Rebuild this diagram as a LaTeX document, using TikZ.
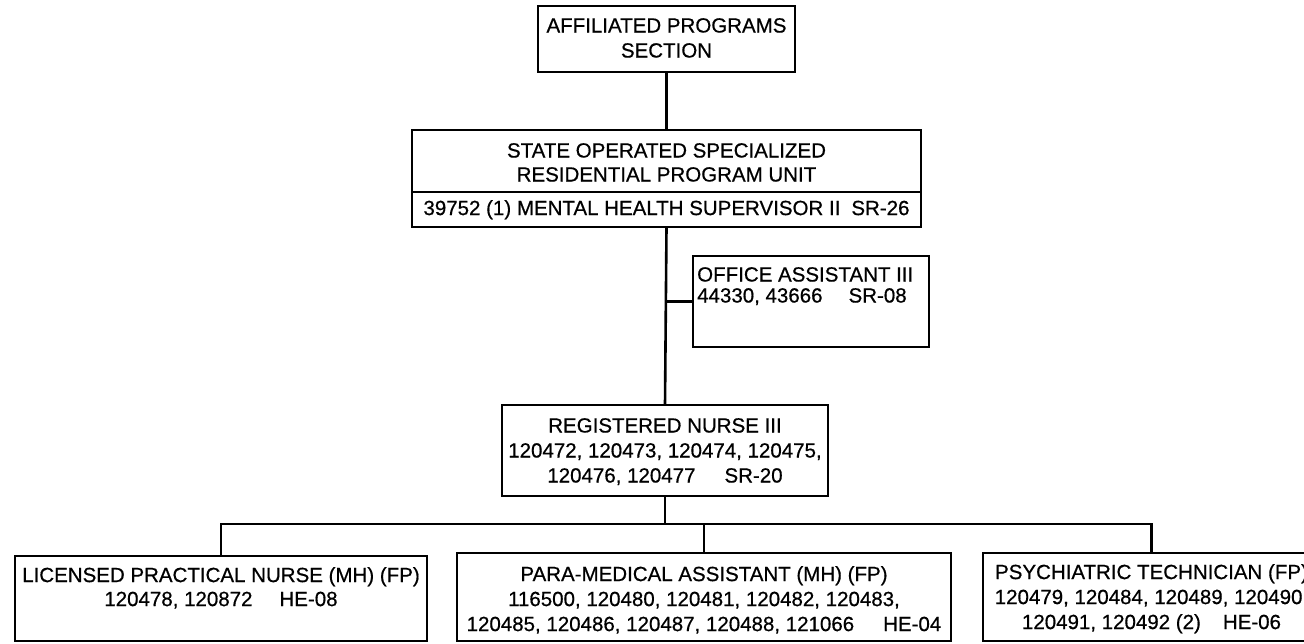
\documentclass[tikz,border=0pt]{standalone}
\usepackage{fontspec}
\setmainfont{Liberation Sans}[FakeBold=0.6]
\begin{document}
\begin{tikzpicture}[x=1pt,y=-1pt,
  box/.style={draw, line width=2.6pt, inner sep=0pt, outer sep=0pt, anchor=north west},
  txt/.style={inner sep=0pt, align=center, anchor=north, font=\fontsize{20.5}{25}\selectfont},
  conn/.style={line width=2.6pt}]
\useasboundingbox (0,0) rectangle (1304,644);
\clip (0,0) rectangle (1304,644);
% boxes
\node[box, minimum width=257pt, minimum height=66pt] (top) at (538,6) {};
\node[box, minimum width=509pt, minimum height=62pt] (stateA) at (412,130) {};
\node[box, minimum width=509pt, minimum height=35pt] (stateB) at (412,192) {};
\node[box, minimum width=236pt, minimum height=91pt] (office) at (693,256) {};
\node[box, minimum width=326pt, minimum height=91pt] (rn) at (502,405) {};
\node[box, minimum width=412pt, minimum height=85pt] (lpn) at (15,556) {};
\node[box, minimum width=494pt, minimum height=88pt] (mid) at (457,553) {};
\node[box, minimum width=337pt, minimum height=88pt] (psy) at (983,553) {};
% texts
\node[txt] (topT) at (top.north |- 0,18) {AFFILIATED PROGRAMS\\SECTION};
\node[txt, font=\fontsize{20.5}{24}\selectfont] (stateAT) at (stateA.north |- 0,143) {STATE OPERATED SPECIALIZED\\RESIDENTIAL PROGRAM UNIT};
\node[txt] (stateBT) at (stateB.north |- 0,200) {39752 (1) MENTAL HEALTH SUPERVISOR II\hspace{11pt}SR-26};
\node[txt, align=left, anchor=north west, font=\fontsize{20.5}{21}\selectfont] (officeT) at (697,267) {OFFICE ASSISTANT III\\44330, 43666\hspace{26pt}SR-08};
\node[txt] (rnT) at (rn.north |- 0,418) {REGISTERED NURSE III\\120472, 120473, 120474, 120475,\\120476, 120477\hspace{29pt}SR-20};
\node[txt, font=\fontsize{20.5}{24}\selectfont] (lpnT) at (lpn.north |- 0,567) {LICENSED PRACTICAL NURSE (MH) (FP)\\120478, 120872\hspace{27pt}HE-08};
\node[txt] (midT) at (mid.north |- 0,566) {PARA-MEDICAL ASSISTANT (MH) (FP)\\116500, 120480, 120481, 120482, 120483,\\120485, 120486, 120487, 120488, 121066\hspace{29pt}HE-04};
\node[txt] (psyT) at (psy.north |- 0,564) {PSYCHIATRIC TECHNICIAN (FP)\\120479, 120484, 120489, 120490,\\120491, 120492 (2)\hspace{22pt}HE-06};
% connectors
\coordinate (bus) at (0,524);
\draw[conn] (top.south) -- (stateA.north);
\draw[conn] (stateB.south) -- (rn.north);
\draw[conn] (stateB.south |- office.west) -- (office.west);
\draw[conn] (rn.south) -- (rn.south |- bus);
\draw[conn] (lpn.north) -- (lpn.north |- bus) -- (psy.north |- bus) -- (psy.north);
\draw[conn] (mid.north |- bus) -- (mid.north);
\end{tikzpicture}
\end{document}
